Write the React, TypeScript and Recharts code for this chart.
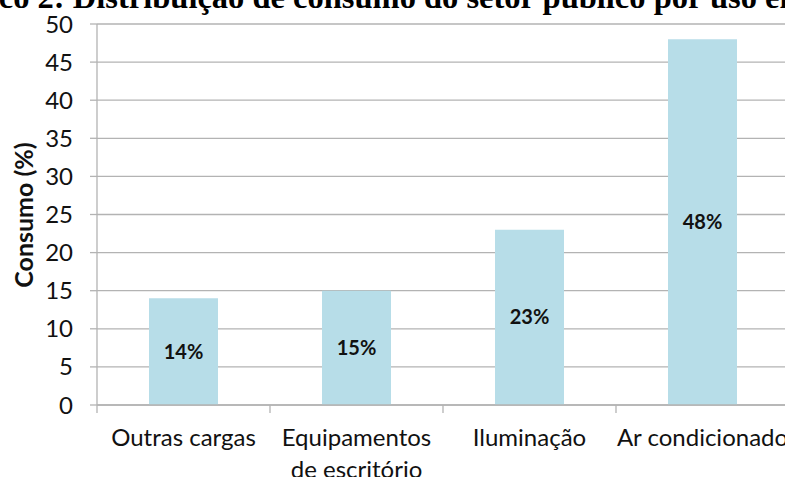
import React from 'react';
import { BarChart, Bar, XAxis, YAxis, CartesianGrid, LabelList } from 'recharts';

const categories = ['Outras cargas', 'Equipamentos\nde escritório', 'Iluminação', 'Ar condicionado'];
const consumo = [14, 15, 23, 48];
const yTicks = [0, 5, 10, 15, 20, 25, 30, 35, 40, 45, 50];
const title = 'Gráfico 2: Distribuição de consumo do setor público por uso energético';
const yLabel = 'Consumo (%)';

const data = categories.map((c, i) => ({ name: c, value: consumo[i] }));

const FONT = 'Lato, "Noto Sans", sans-serif';
const GRID = '#b3b3b3';

const XTick = (props: any) => {
  const { x, y, payload } = props;
  const half = payload && typeof payload.offset === 'number' && payload.offset > 0 ? payload.offset : 86.5;
  const lines = String(payload.value).split('\n');
  return (
    <g>
      <line x1={x - half} y1={y - 8} x2={x - half} y2={y} stroke={GRID} strokeWidth={1.3} />
      <text x={x} y={y} textAnchor="middle" fontFamily={FONT} fontSize={24} fill="#111">
        {lines.map((l, i) => (
          <tspan key={i} x={x} dy={i === 0 ? 33 : 32}>
            {l}
          </tspan>
        ))}
      </text>
    </g>
  );
};

export default function App() {
  return (
    <div style={{ position: 'absolute', left: 0, top: 0, width: 785, height: 477, overflow: 'hidden', background: '#fff' }}>
      <BarChart
        width={790}
        height={477}
        data={data}
        margin={{ top: 24, right: 1, bottom: 0, left: 0 }}
        barCategoryGap="30%"
      >
        <CartesianGrid vertical={false} stroke={GRID} strokeWidth={1.3} />
        <XAxis
          dataKey="name"
          height={72}
          interval={0}
          tickLine={false}
          tickSize={8}
          tickMargin={0}
          axisLine={{ stroke: GRID, strokeWidth: 1.3 }}
          tick={<XTick />}
        />
        <YAxis
          width={97}
          domain={[0, 50]}
          ticks={yTicks}
          interval={0}
          tickSize={7}
          tickMargin={17}
          axisLine={{ stroke: GRID, strokeWidth: 1.3 }}
          tickLine={{ stroke: GRID, strokeWidth: 1.3 }}
          tick={{ fontFamily: FONT, fontSize: 24, fill: '#111' }}
        />
        <Bar dataKey="value" fill="#b7dde8" barSize={69} isAnimationActive={false}>
          <LabelList
            dataKey="value"
            position="center"
            formatter={(v: any) => `${v}%`}
            style={{ fontFamily: FONT, fontSize: 20, fontWeight: 700, fill: '#111' }}
          />
        </Bar>
      </BarChart>
      <svg width={785} height={477} style={{ position: 'absolute', left: 0, top: 0, pointerEvents: 'none' }}>
        <text x={-77} y={7.5} fontFamily='"Liberation Serif", "Times New Roman", serif' fontWeight={700} fontSize={32.5} fill="#000">
          {title}
        </text>
        <text
          x={23}
          y={215}
          transform="rotate(-90, 23, 215)"
          textAnchor="middle"
          dominantBaseline="central"
          fontFamily={FONT}
          fontWeight={700}
          fontSize={25}
          fill="#111"
        >
          {yLabel}
        </text>
      </svg>
    </div>
  );
}
